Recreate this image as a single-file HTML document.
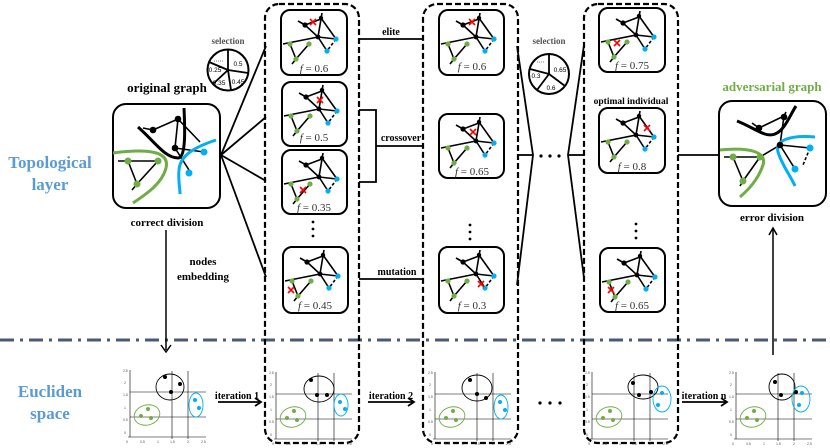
<!DOCTYPE html>
<html><head><meta charset="utf-8"><style>
html,body{margin:0;padding:0;background:#fff;}
svg{display:block;font-family:"Liberation Serif",serif;}
</style></head><body>
<svg width="830" height="448" viewBox="0 0 830 448" xmlns="http://www.w3.org/2000/svg">
<defs>
<g id="thumb">
  <g stroke="#000" stroke-width="1.6" fill="none">
    <line x1="17" y1="11" x2="24" y2="15"/>
    <line x1="24" y1="15" x2="37" y2="27"/>
    <line x1="41" y1="3" x2="37" y2="27"/>
    <line x1="24" y1="15" x2="40" y2="9"/>
    <line x1="37" y1="27" x2="55" y2="29"/>
    <line x1="40" y1="8" x2="55" y2="29"/>
    <line x1="2" y1="34" x2="37" y2="27"/>
    <line x1="9" y1="34" x2="15" y2="49"/>
    <line x1="28" y1="34" x2="15" y2="49"/>
    <line x1="15" y1="49" x2="11" y2="54"/>
    <line x1="37" y1="27" x2="46" y2="41"/>
    <line x1="55" y1="29" x2="46" y2="41" stroke-dasharray="3,2"/>
  </g>
  <circle cx="24" cy="15" r="2.6" fill="#000"/>
  <circle cx="40" cy="8" r="2.2" fill="#000"/>
  <circle cx="37" cy="27" r="2.4" fill="#000"/>
  <circle cx="9" cy="34" r="2.6" fill="#70ad47"/>
  <circle cx="28" cy="34" r="2.6" fill="#70ad47"/>
  <circle cx="15" cy="49" r="2.6" fill="#70ad47"/>
  <circle cx="55" cy="29" r="2.6" fill="#00b0f0"/>
  <circle cx="46" cy="41" r="2.6" fill="#00b0f0"/>
</g>
<g id="rx"><path d="M-3,-3L3,3M3,-3L-3,3" stroke="#f00" stroke-width="1.6"/></g>
<g id="plot">
  <g stroke="#000" stroke-width="0.6" fill="none">
    <line x1="4" y1="2" x2="4" y2="69"/>
    <line x1="2" y1="69" x2="80" y2="69"/>
    <line x1="4" y1="24" x2="80" y2="24"/>
    <line x1="4" y1="49" x2="80" y2="49"/>
    <line x1="46" y1="3" x2="46" y2="71"/>
    <line x1="62" y1="3" x2="62" y2="71"/>
  </g>
  <g font-size="3.5" fill="#555" font-family="Liberation Sans,sans-serif">
    <text x="-3" y="4">2.5</text><text x="-2" y="16">2</text><text x="-3" y="28">1.5</text><text x="-2" y="41">1</text><text x="-3" y="53">0.5</text><text x="-2" y="66">0</text>
    <text x="0" y="75">0</text><text x="14" y="75">0.5</text><text x="31" y="75">1</text><text x="44" y="75">1.5</text><text x="61" y="75">2</text><text x="75" y="75">2.5</text>
  </g>
  <ellipse cx="21" cy="47" rx="13" ry="10" transform="rotate(-15 21 47)" fill="none" stroke="#70ad47" stroke-width="0.9"/>
  <circle cx="15" cy="48" r="2" fill="#70ad47"/><circle cx="22" cy="41" r="2" fill="#70ad47"/><circle cx="25" cy="50" r="2" fill="#70ad47"/>
</g>
</defs>

<!-- left labels -->
<g fill="#5b9bd5" font-weight="bold" font-size="17" text-anchor="middle">
  <text x="50" y="168">Topological</text><text x="50" y="190">layer</text>
  <text x="50" y="397">Eucliden</text><text x="50" y="419">space</text>
</g>

<!-- dash-dot separator -->
<line x1="0" y1="340" x2="830" y2="340" stroke="#4a5a70" stroke-width="3" stroke-dasharray="14,6,3,6"/>

<!-- original graph -->
<text x="167" y="92" font-size="13" font-weight="bold" text-anchor="middle">original graph</text>
<rect x="113" y="104" width="107" height="104" rx="13" fill="#fff" stroke="#000" stroke-width="2"/>
<g stroke="#000" stroke-width="1.6" fill="none">
  <line x1="143" y1="128" x2="153" y2="130"/><line x1="153" y1="130" x2="178" y2="119"/>
  <line x1="178" y1="119" x2="175" y2="148"/><line x1="178" y1="119" x2="200" y2="142"/>
  <line x1="175" y1="148" x2="204" y2="152"/><line x1="175" y1="148" x2="189" y2="170"/>
  <line x1="118" y1="161" x2="158" y2="161"/><line x1="128" y1="161" x2="137" y2="184"/>
  <line x1="158" y1="161" x2="137" y2="184"/><line x1="137" y1="184" x2="132" y2="190"/>
</g>
<path d="M138,127 C155,142 165,158 178,158 C186,158 185,130 184,108" stroke="#000" stroke-width="3" fill="none"/>
<path d="M113,153 C150,148 170,152 166,168 C162,184 145,195 133,203" stroke="#70ad47" stroke-width="3" fill="none"/>
<path d="M216,140 C195,147 180,155 179,170 C178,180 180,188 180,194" stroke="#00b0f0" stroke-width="3" fill="none"/>
<circle cx="153" cy="130" r="3.3" fill="#000"/><circle cx="178" cy="119" r="3.3" fill="#000"/><circle cx="175" cy="148" r="3.3" fill="#000"/>
<circle cx="128" cy="161" r="3.5" fill="#70ad47"/><circle cx="158" cy="161" r="3.5" fill="#70ad47"/><circle cx="137" cy="184" r="3.5" fill="#70ad47"/>
<circle cx="204" cy="152" r="3.5" fill="#00b0f0"/><circle cx="189" cy="173" r="3.5" fill="#00b0f0"/>
<text x="167" y="226" font-size="11" font-weight="bold" text-anchor="middle">correct division</text>
<text x="203" y="265" font-size="11" font-weight="bold" text-anchor="middle">nodes</text>
<text x="203" y="280" font-size="11" font-weight="bold" text-anchor="middle">embedding</text>
<line x1="166" y1="230" x2="166" y2="350" stroke="#000" stroke-width="1.5"/>
<path d="M161,345 L166,352 L171,345" stroke="#000" stroke-width="1.5" fill="none"/>

<!-- selection pie 1 -->
<text x="228" y="44" font-size="9" font-weight="bold" fill="#555" text-anchor="middle">selection</text>
<circle cx="228" cy="70" r="20.5" fill="#fff" stroke="#000" stroke-width="2"/>
<g stroke="#000" stroke-width="1.8"><line x1="228" y1="70" x2="228" y2="49.5"/><line x1="228" y1="70" x2="209" y2="62"/><line x1="228" y1="70" x2="213" y2="84"/><line x1="228" y1="70" x2="231" y2="90"/><line x1="228" y1="70" x2="248" y2="73"/></g>
<g font-size="6.5" font-family="Liberation Sans,sans-serif" text-anchor="middle"><text x="238" y="66">0.5</text><text x="215" y="72">0.25</text><text x="219" y="85">0.35</text><text x="238" y="84">0.45</text></g>
<line x1="214" y1="61" x2="223" y2="61" stroke="#888" stroke-dasharray="1,1"/>

<!-- fan lines from original graph -->
<g stroke="#000" stroke-width="1.8">
  <line x1="221" y1="155" x2="266" y2="46"/><line x1="221" y1="155" x2="266" y2="117"/>
  <line x1="221" y1="155" x2="266" y2="181"/><line x1="221" y1="155" x2="266" y2="277"/>
</g>

<!-- dashed columns -->
<g fill="none" stroke="#000" stroke-width="2.2" stroke-dasharray="6,3">
  <rect x="265" y="4" width="94" height="439" rx="14"/>
  <rect x="423" y="4" width="95" height="439" rx="14"/>
  <rect x="584" y="4" width="94" height="439" rx="14"/>
</g>

<!-- thumbnails -->
<g fill="#fff" stroke="#000" stroke-width="2">
  <rect x="281" y="10" width="66" height="65" rx="9"/><rect x="282" y="82" width="65" height="64" rx="9"/>
  <rect x="282" y="150" width="65" height="64" rx="9"/><rect x="283" y="247" width="65" height="66" rx="9"/>
  <rect x="439" y="10" width="65" height="65" rx="9"/><rect x="439" y="114" width="65" height="64" rx="9"/>
  <rect x="439" y="247" width="65" height="66" rx="9"/>
  <rect x="599" y="8" width="66" height="64" rx="9"/><rect x="599" y="108" width="66" height="65" rx="9"/>
  <rect x="600" y="248" width="65" height="64" rx="9"/>
</g>
<use href="#thumb" x="281" y="10"/><use href="#rx" x="313" y="22"/>
<use href="#thumb" x="282" y="82"/><use href="#rx" x="320" y="100"/>
<use href="#thumb" x="282" y="150"/><use href="#rx" x="303" y="190"/>
<use href="#thumb" x="283" y="247"/><use href="#rx" x="291" y="290"/>
<use href="#thumb" x="439" y="10"/><use href="#rx" x="472" y="22"/>
<use href="#thumb" x="439" y="114"/><use href="#rx" x="473" y="132"/>
<use href="#thumb" x="439" y="247"/><use href="#rx" x="481" y="284"/>
<use href="#thumb" x="599" y="8"/><use href="#rx" x="617" y="43"/>
<use href="#thumb" x="599" y="108"/><use href="#rx" x="647" y="128"/>
<use href="#thumb" x="600" y="248"/><use href="#rx" x="611" y="290"/>
<g font-size="11" fill="#333" text-anchor="middle" font-family="Liberation Serif,serif">
  <text x="314" y="72"><tspan font-style="italic">f</tspan> = 0.6</text>
  <text x="314" y="141"><tspan font-style="italic">f</tspan> = 0.5</text>
  <text x="314" y="211"><tspan font-style="italic">f</tspan> = 0.35</text>
  <text x="315" y="309"><tspan font-style="italic">f</tspan> = 0.45</text>
  <text x="472" y="70"><tspan font-style="italic">f</tspan> = 0.6</text>
  <text x="472" y="175"><tspan font-style="italic">f</tspan> = 0.65</text>
  <text x="472" y="309"><tspan font-style="italic">f</tspan> = 0.3</text>
  <text x="632" y="69"><tspan font-style="italic">f</tspan> = 0.75</text>
  <text x="632" y="170"><tspan font-style="italic">f</tspan> = 0.8</text>
  <text x="632" y="309"><tspan font-style="italic">f</tspan> = 0.65</text>
</g>
<text x="631" y="104" font-size="9.5" font-weight="bold" text-anchor="middle">optimal individual</text>
<g fill="#000"><circle cx="313" cy="222" r="1.4"/><circle cx="313" cy="229" r="1.4"/><circle cx="313" cy="236" r="1.4"/>
<circle cx="470" cy="225" r="1.4"/><circle cx="470" cy="232" r="1.4"/><circle cx="470" cy="239" r="1.4"/>
<circle cx="636" cy="224" r="1.4"/><circle cx="636" cy="231" r="1.4"/><circle cx="636" cy="238" r="1.4"/></g>

<!-- operators -->
<g stroke="#000" stroke-width="1.8" fill="none">
  <line x1="359" y1="39" x2="423" y2="39"/>
  <path d="M359,110 H376 V182 H359"/><line x1="376" y1="146" x2="423" y2="146"/>
  <line x1="359" y1="279" x2="423" y2="279"/>
  <path d="M517,46 L533,155 L517,285"/><line x1="517" y1="155" x2="533" y2="155"/>
  <path d="M584,45 L568,155 L584,278"/><line x1="568" y1="155" x2="584" y2="155"/>
  <line x1="678" y1="155" x2="719" y2="155"/>
</g>
<g font-size="10" font-weight="bold" text-anchor="middle">
  <text x="391" y="35">elite</text><text x="401" y="141">crossover</text><text x="397" y="275">mutation</text>
</g>
<g fill="#000"><circle cx="541" cy="156" r="1.6"/><circle cx="550" cy="156" r="1.6"/><circle cx="559" cy="156" r="1.6"/></g>

<!-- selection pie 2 -->
<text x="549" y="44" font-size="9" font-weight="bold" fill="#555" text-anchor="middle">selection</text>
<circle cx="549" cy="74" r="20" fill="#fff" stroke="#000" stroke-width="2"/>
<g stroke="#000" stroke-width="1.8"><line x1="549" y1="74" x2="549" y2="54"/><line x1="549" y1="74" x2="530" y2="69"/><line x1="549" y1="74" x2="537" y2="90"/><line x1="549" y1="74" x2="565" y2="86"/></g>
<g font-size="6.5" font-family="Liberation Sans,sans-serif" text-anchor="middle"><text x="560" y="72">0.65</text><text x="536" y="78">0.3</text><text x="551" y="90">0.6</text></g>
<line x1="537" y1="62" x2="545" y2="62" stroke="#888" stroke-dasharray="1,1"/>

<!-- adversarial -->
<text x="772" y="91" font-size="13" font-weight="bold" fill="#70ad47" text-anchor="middle">adversarial graph</text>
<rect x="719" y="101" width="107" height="105" rx="13" fill="#fff" stroke="#000" stroke-width="2"/>
<g stroke="#000" stroke-width="1.6" fill="none">
  <line x1="752" y1="123" x2="759" y2="128"/><line x1="759" y1="128" x2="784" y2="116"/>
  <line x1="784" y1="116" x2="780" y2="145"/><line x1="786" y1="112" x2="784" y2="116"/>
  <line x1="780" y1="145" x2="810" y2="148"/><line x1="780" y1="145" x2="795" y2="169"/>
  <line x1="780" y1="145" x2="760" y2="157"/>
  <line x1="724" y1="157" x2="760" y2="157"/><line x1="733" y1="157" x2="743" y2="181"/>
  <line x1="760" y1="157" x2="743" y2="181"/><line x1="743" y1="181" x2="740" y2="186"/>
  <line x1="810" y1="148" x2="803" y2="165" stroke-dasharray="3,2"/>
</g>
<path d="M737,121 C755,128 765,138 775,134 C785,130 790,115 796,106" stroke="#000" stroke-width="3" fill="none"/>
<path d="M720,150 C750,147 767,152 763,165 C758,180 748,190 740,197" stroke="#70ad47" stroke-width="3" fill="none"/>
<path d="M815,137 C790,135 775,140 778,152 C782,165 790,175 795,186" stroke="#00b0f0" stroke-width="3" fill="none"/>
<circle cx="759" cy="128" r="3.3" fill="#000"/><circle cx="784" cy="117" r="3.3" fill="#000"/><circle cx="780" cy="145" r="3.3" fill="#000"/>
<circle cx="733" cy="157" r="3.5" fill="#70ad47"/><circle cx="760" cy="157" r="3.5" fill="#70ad47"/><circle cx="743" cy="181" r="3.5" fill="#70ad47"/>
<circle cx="810" cy="148" r="3.5" fill="#00b0f0"/><circle cx="795" cy="169" r="3.5" fill="#00b0f0"/>
<text x="772" y="221" font-size="11" font-weight="bold" text-anchor="middle">error division</text>
<line x1="773" y1="355" x2="773" y2="229" stroke="#000" stroke-width="1.5"/>
<path d="M769,235 L773,228 L777,235" stroke="#000" stroke-width="1.5" fill="none"/>

<!-- scatter plots -->
<use href="#plot" x="126" y="368"/>
<circle cx="165" cy="377" r="2" fill="#000"/><circle cx="180" cy="384" r="2" fill="#000"/><circle cx="171" cy="392" r="2" fill="#000"/>
<ellipse cx="170" cy="387" rx="14" ry="13" fill="none" stroke="#000" stroke-width="0.9"/>
<ellipse cx="196" cy="405" rx="7" ry="12" fill="none" stroke="#00b0f0" stroke-width="0.9"/>
<circle cx="195" cy="400" r="2" fill="#00b0f0"/><circle cx="199" cy="408" r="2" fill="#00b0f0"/>

<use href="#plot" x="272" y="370"/>
<circle cx="311" cy="380" r="2" fill="#000"/><circle cx="317" cy="395" r="2" fill="#000"/><circle cx="327" cy="395" r="2" fill="#000"/>
<ellipse cx="319" cy="389" rx="15" ry="13" fill="none" stroke="#000" stroke-width="0.9"/>
<ellipse cx="341" cy="405" rx="7" ry="11" fill="none" stroke="#00b0f0" stroke-width="0.9"/>
<circle cx="340" cy="402" r="2" fill="#00b0f0"/><circle cx="345" cy="409" r="2" fill="#00b0f0"/>

<use href="#plot" x="431" y="370"/>
<circle cx="470" cy="380" r="2" fill="#000"/><circle cx="477" cy="394" r="2" fill="#000"/><circle cx="486" cy="398" r="2" fill="#000"/>
<ellipse cx="477" cy="388" rx="15" ry="13" fill="none" stroke="#000" stroke-width="0.9"/>
<ellipse cx="501" cy="407" rx="7" ry="12" fill="none" stroke="#00b0f0" stroke-width="0.9"/>
<circle cx="500" cy="402" r="2" fill="#00b0f0"/><circle cx="505" cy="410" r="2" fill="#00b0f0"/>

<use href="#plot" x="588" y="370"/>
<circle cx="633" cy="383" r="2" fill="#000"/><circle cx="639" cy="395" r="2" fill="#000"/><circle cx="651" cy="392" r="2" fill="#000"/>
<ellipse cx="643" cy="387" rx="15" ry="12" fill="none" stroke="#000" stroke-width="0.9"/>
<ellipse cx="662" cy="399" rx="9" ry="13" fill="none" stroke="#00b0f0" stroke-width="0.9"/>
<circle cx="662" cy="393" r="2" fill="#00b0f0"/><circle cx="658" cy="405" r="2" fill="#00b0f0"/>

<use href="#plot" x="732" y="370"/>
<circle cx="775" cy="382" r="2" fill="#000"/><circle cx="781" cy="395" r="2" fill="#000"/><circle cx="796" cy="392" r="2" fill="#000"/>
<ellipse cx="782" cy="387" rx="13" ry="13" fill="none" stroke="#000" stroke-width="0.9"/>
<ellipse cx="801" cy="399" rx="9" ry="13" fill="none" stroke="#00b0f0" stroke-width="0.9"/>
<circle cx="802" cy="393" r="2" fill="#00b0f0"/><circle cx="799" cy="405" r="2" fill="#00b0f0"/>

<!-- iteration arrows -->
<g font-size="10" font-weight="bold" text-anchor="middle">
  <text x="237" y="399">iteration 1</text><text x="391" y="399">iteration 2</text><text x="704" y="399">iteration n</text>
</g>
<g stroke="#000" stroke-width="1.8" fill="none">
  <line x1="218" y1="402" x2="260" y2="402"/><path d="M255,398 L261,402 L255,406"/>
  <line x1="368" y1="402" x2="413" y2="402"/><path d="M408,398 L414,402 L408,406"/>
  <line x1="682" y1="402" x2="726" y2="402"/><path d="M721,398 L727,402 L721,406"/>
</g>
<g fill="#000"><circle cx="540" cy="403" r="1.6"/><circle cx="550" cy="403" r="1.6"/><circle cx="560" cy="403" r="1.6"/></g>
</svg>
</body></html>
